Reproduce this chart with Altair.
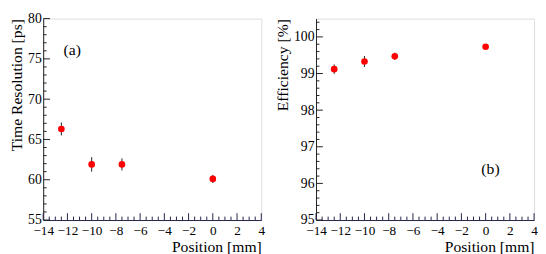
import altair as alt
import pandas as pd
import numpy as np

# data
positions = [-12.5, -10.0, -7.5, 0.0]
time_res = [66.3, 61.9, 61.9, 60.1]
time_err = [0.8, 0.9, 0.75, 0.5]
eff = [99.12, 99.33, 99.47, 99.73]
eff_err = [0.13, 0.15, 0.10, 0.05]

x_major = [-14, -12, -10, -8, -6, -4, -2, 0, 2, 4]
y1_major = [55, 60, 65, 70, 75, 80]
y2_major = [95, 96, 97, 98, 99, 100]

FONT = "Liberation Serif"
W, H = 223, 206
AXIS_COL = "#22224a"
MAJ, MIN = 7, 3.5


def panel(yvals, yerr, ydomain, ymajor, yminor_step, ytitle, tag, tag_x, tag_y):
    df = pd.DataFrame({"x": positions, "y": yvals,
                       "lo": [v - e for v, e in zip(yvals, yerr)],
                       "hi": [v + e for v, e in zip(yvals, yerr)]})
    xs = alt.Scale(domain=[-14, 4], nice=False, zero=False)
    ys = alt.Scale(domain=ydomain, nice=False, zero=False)
    xax = alt.Axis(values=x_major, ticks=False, labelFont=FONT, labelFontSize=13.5,
                   labelColor="black", labelPadding=4, domainColor=AXIS_COL,
                   labelOverlap=False, labelBound=False, labelFlush=False,
                   grid=False, title="Position [mm]", titleFont=FONT,
                   titleFontSize=16, titleFontWeight="normal", titleColor="black",
                   titleAnchor="end", titleAlign="right", titlePadding=2)
    yax = alt.Axis(values=ymajor, ticks=False, labelFont=FONT, labelFontSize=14,
                   labelColor="black", labelPadding=2, domainColor="#222222",
                   labelOverlap=False, labelFlush=False,
                   grid=False, title=ytitle, titleFont=FONT, titleFontSize=16,
                   titleFontWeight="normal", titleColor="black", titleAnchor="end",
                   titlePadding=3)
    base = alt.Chart(df)
    err = base.mark_rule(color="#222222", strokeWidth=1).encode(
        x=alt.X("x:Q", scale=xs, axis=xax),
        y=alt.Y("lo:Q", scale=ys, axis=yax),
        y2="hi:Q")
    pts = base.mark_circle(color="#ff0000", opacity=1, size=46).encode(
        x=alt.X("x:Q", scale=xs, axis=xax), y=alt.Y("y:Q", scale=ys, axis=yax))

    xmin = [v for v in np.arange(-14, 4.01, 0.5).tolist() if v not in x_major]
    ymin = [v for v in np.arange(ydomain[0], ydomain[1] + 1e-6, yminor_step).round(3).tolist()
            if v not in ymajor]

    def xticks(vals, ln):
        return alt.Chart(pd.DataFrame({"t": vals})).mark_rule(
            color=AXIS_COL, strokeWidth=1).encode(
            x=alt.X("t:Q", scale=xs, axis=xax), y=alt.value(H), y2=alt.value(H - ln))

    def yticks(vals, ln):
        return alt.Chart(pd.DataFrame({"t": vals})).mark_rule(
            color="#222222", strokeWidth=1).encode(
            y=alt.Y("t:Q", scale=ys, axis=yax), x=alt.value(0), x2=alt.value(ln))

    txt = alt.Chart(pd.DataFrame({"x": [tag_x], "y": [tag_y], "t": [tag]})).mark_text(
        font=FONT, fontSize=16, color="black").encode(
        x=alt.X("x:Q", scale=xs, axis=xax), y=alt.Y("y:Q", scale=ys, axis=yax), text="t:N")

    return alt.layer(xticks(x_major, MAJ), xticks(xmin, MIN),
                     yticks(ymajor, MAJ), yticks(ymin, MIN),
                     err, pts, txt).properties(width=W, height=H)


left = panel(time_res, time_err, [55, 80], y1_major, 1, "Time Resolution [ps]",
             "(a)", -11.6, 76.1)
right = panel(eff, eff_err, [95, 100.5], y2_major, 0.2, "Efficiency [%]",
              "(b)", 0.4, 96.4)

chart = alt.hconcat(left, right, spacing=9).configure_view(
    stroke="#aaaaaa", strokeWidth=1).configure(padding=0, background="white")

chart.save("out.html", embed_options={"renderer": "svg", "actions": False})
